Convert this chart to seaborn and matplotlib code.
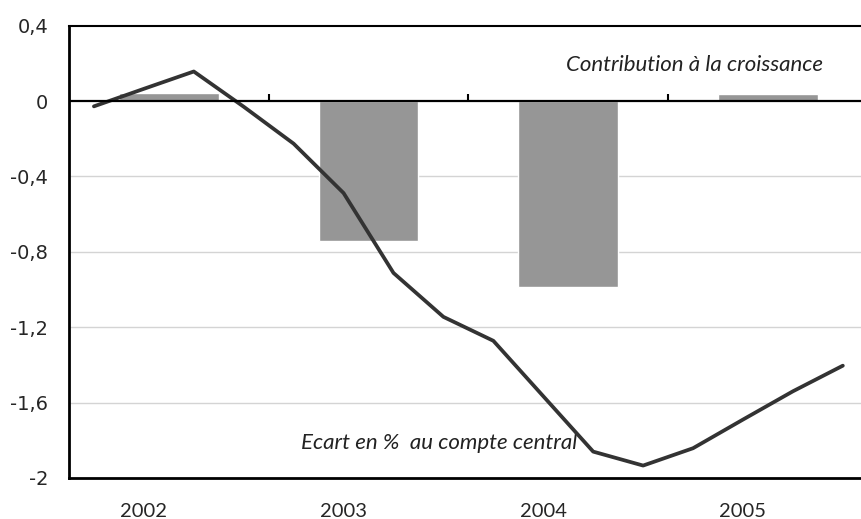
import numpy as np
import pandas as pd
import matplotlib
matplotlib.use("Agg")
import matplotlib.pyplot as plt
import seaborn as sns

# données
annees = ["2002", "2003", "2004", "2005"]
contribution = [0.041, -0.745, -0.984, 0.036]
ecart = [-0.028, 0.065, 0.157, -0.030,
         -0.226, -0.488, -0.912, -1.145,
         -1.272, -1.566, -1.860, -1.934,
         -1.842, -1.690, -1.540, -1.404]
y_ticks = [0.4, 0, -0.4, -0.8, -1.2, -1.6, -2]

sns.set_style("white")
plt.rcParams['font.family'] = ['DejaVu Sans']

df_bar = pd.DataFrame({"annee": annees, "contribution": contribution})
# position des trimestres à l'intérieur de chaque année
trim = np.arange(len(ecart))
df_line = pd.DataFrame({"x": trim // 4 - 0.5 + (trim % 4 + 0.5) / 4, "ecart": ecart})

fig = plt.figure(figsize=(8.61, 5.19), dpi=100)
ax = fig.add_axes([0.0801, 0.079, 0.9199, 0.8715])

sns.barplot(data=df_bar, x="annee", y="contribution", color="#969696",
            saturation=1, width=0.5, ax=ax, zorder=2)
sns.lineplot(data=df_line, x="x", y="ecart", color="#333333", linewidth=2.7,
             ax=ax, zorder=3)

ax.set_xlim(-0.5, 3.466)
ax.set_ylim(-2, 0.4)
ax.set_xlabel("")
ax.set_ylabel("")

# grille horizontale
for v in y_ticks[2:-1]:
    ax.axhline(v, color="#d4d4d4", linewidth=1, zorder=1)

# axe à zéro avec graduations entre les années
ax.axhline(0, color="black", linewidth=1.6, zorder=4)
ax.vlines(np.arange(len(annees)) + 0.5, 0, 0.037, color="black", linewidth=1.5, zorder=4)

ax.set_yticks(y_ticks)
ax.set_yticklabels([f"{v:g}".replace(".", ",") for v in y_ticks])
ax.tick_params(axis="y", direction="in", length=7.5, width=1.2, color="black",
               pad=15, labelsize=14)
ax.set_xticks(np.arange(len(annees)) - 0.125)
ax.set_xticklabels(annees, fontfamily="Lato", fontsize=14.5)
ax.tick_params(axis="x", length=0, pad=18)

for s in ["left", "bottom"]:
    ax.spines[s].set_linewidth(2)
    ax.spines[s].set_color("black")
ax.spines["top"].set_linewidth(1.5)
ax.spines["top"].set_color("black")
ax.spines["right"].set_visible(False)

ax.text(3.276, 0.189, "Contribution à la croissance", ha="right", va="center",
        fontsize=16, style="italic", fontfamily="Lato", color="#222222")
ax.text(2.044, -1.814, "Ecart en %  au compte central", ha="right", va="center",
        fontsize=16, style="italic", fontfamily="Lato", color="#222222", zorder=2)

plt.savefig("out.png", dpi=100)
